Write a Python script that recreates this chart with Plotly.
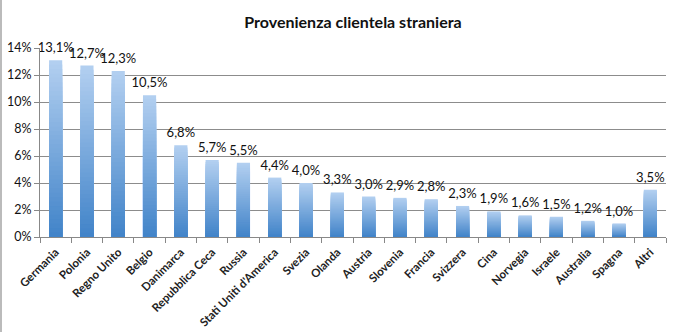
import plotly.graph_objects as go

categories = ["Germania", "Polonia", "Regno Unito", "Belgio", "Danimarca",
              "Repubblica Ceca", "Russia", "Stati Uniti d'America", "Svezia",
              "Olanda", "Austria", "Slovenia", "Francia", "Svizzera", "Cina",
              "Norvegia", "Israele", "Australia", "Spagna", "Altri"]
values = [13.1, 12.7, 12.3, 10.5, 6.8, 5.7, 5.5, 4.4, 4.0, 3.3, 3.0, 2.9,
          2.8, 2.3, 1.9, 1.6, 1.5, 1.2, 1.0, 3.5]
y_ticks = [0, 2, 4, 6, 8, 10, 12, 14]
y_tick_labels = ["0%", "2%", "4%", "6%", "8%", "10%", "12%", "14%"]
labels = [f"{v:.1f}".replace(".", ",") + "%" for v in values]

FONT = "Lato"
top_rgb = (178, 207, 240)
bot_rgb = (66, 132, 201)

fig = go.Figure()
N = 40
for k in range(N):
    frac = 1 - k / N
    t = k / (N - 1)
    c = tuple(round(top_rgb[i] + (bot_rgb[i] - top_rgb[i]) * t) for i in range(3))
    fig.add_trace(go.Bar(
        x=categories, y=[v * frac for v in values],
        marker=dict(color=f"rgb{c}", line=dict(width=0)),
        hoverinfo="skip", showlegend=False,
    ))

fig.add_trace(go.Scatter(
    x=categories, y=values, mode="markers+text", text=labels,
    textposition="top center",
    marker=dict(size=6, opacity=0),
    textfont=dict(family=FONT, size=13, color="#111"),
    hoverinfo="skip", showlegend=False, cliponaxis=False,
))

fig.update_layout(
    width=681, height=332,
    margin=dict(l=40, r=15, t=48, b=95),
    paper_bgcolor="white", plot_bgcolor="white",
    barmode="overlay", bargap=0.58,
    title=dict(text="<b>Provenienza clientela straniera</b>",
               x=0.5, xref="paper", xanchor="center",
               y=1 - 22 / 332, yanchor="middle",
               font=dict(family=FONT, size=16, color="#111")),
    font=dict(family=FONT, size=12, color="#111"),
    shapes=[dict(type="line", xref="paper", yref="paper",
                 x0=-39 / 626, x1=-39 / 626, y0=-1, y1=2,
                 line=dict(color="#bbbbbb", width=2))],
)

fig.update_xaxes(
    type="category", range=[-0.5, len(categories) - 0.5],
    tickangle=-45, tickson="boundaries", automargin=False,
    ticks="outside", ticklen=5, tickcolor="#888", ticklabelstandoff=3,
    showline=True, linecolor="#888", linewidth=1,
    tickfont=dict(family=FONT, size=11.5, color="#222", weight="bold"),
    showgrid=False,
)
fig.update_yaxes(
    range=[0, 14], tickvals=y_ticks, ticktext=y_tick_labels, automargin=False,
    ticks="outside", ticklen=5, tickcolor="#888",
    showline=True, linecolor="#888", linewidth=1,
    showgrid=True, gridcolor="#8c8c8c", gridwidth=1,
    tickfont=dict(family=FONT, size=12.5, color="#111"),
    zeroline=False,
)

fig.write_html("out.html")
